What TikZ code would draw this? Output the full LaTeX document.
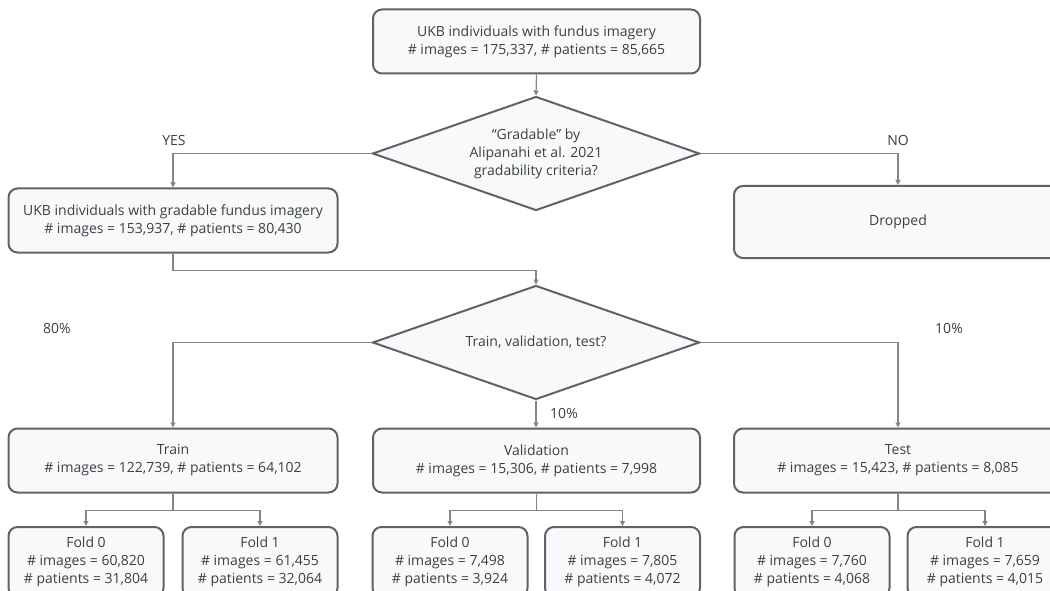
\documentclass[tikz,border=0pt]{standalone}
\usepackage{fontspec}
\setmainfont{Open Sans}
\usetikzlibrary{shapes.geometric,arrows.meta}
\definecolor{boxline}{HTML}{5F6368}
\definecolor{boxfill}{HTML}{F8F9FA}
\definecolor{conn}{HTML}{80868B}
\definecolor{txt}{HTML}{3C4043}
\tikzset{
  box/.style={draw=boxline,fill=boxfill,line width=2pt,rounded corners=9pt,
    align=center,text=txt,inner sep=2pt,minimum width=327pt,minimum height=64pt},
  foldbox/.style={box,minimum width=155pt,minimum height=70pt},
  decision/.style={diamond,draw=boxline,fill=boxfill,line width=2pt,align=center,
    text=txt,inner sep=0pt,aspect=2.9,minimum width=327pt,minimum height=114pt},
  conn/.style={draw=conn,line width=1.2pt,-{Triangle[width=5pt,length=5pt]}},
  lbl/.style={text=txt,inner sep=0pt}
}
\begin{document}
\begin{tikzpicture}[x=1pt,y=-1pt,font=\fontsize{14}{18}\selectfont]
  \useasboundingbox (0,0) rectangle (1050,591);

  % boxes
  \node[box] (ukb) at (536.5,41.5) {UKB individuals with fundus imagery\\\# images = 175,337, \# patients = 85,665};
  \node[decision] (grade) at (536,153.5) {``Gradable'' by\\Alipanahi et al. 2021\\gradability criteria?};
  \node[box,minimum width=329pt] (gradable) at (173,220.5) {UKB individuals with gradable fundus imagery\\\# images = 153,937, \# patients = 80,430};
  \node[box,minimum width=328pt,minimum height=72pt] (dropped) at (898,222) {Dropped};
  \node[decision] (split) at (536,342.5) {Train, validation, test?};
  \node[box,minimum width=329pt] (train) at (173,460.5) {Train\\\# images = 122,739, \# patients = 64,102};
  \node[box] (valid) at (536.5,460.5) {Validation\\\# images = 15,306, \# patients = 7,998};
  \node[box,minimum width=328pt] (test) at (898,460.5) {Test\\\# images = 15,423, \# patients = 8,085};

  % folds
  \node[foldbox] (train0) at (86,562) {Fold 0\\\# images = 60,820\\\# patients = 31,804};
  \node[foldbox] (train1) at (260,562) {Fold 1\\\# images = 61,455\\\# patients = 32,064};
  \node[foldbox] (valid0) at (450,562) {Fold 0\\\# images = 7,498\\\# patients = 3,924};
  \node[foldbox] (valid1) at (622.5,562) {Fold 1\\\# images = 7,805\\\# patients = 4,072};
  \node[foldbox] (test0) at (812,562) {Fold 0\\\# images = 7,760\\\# patients = 4,068};
  \node[foldbox] (test1) at (985,562) {Fold 1\\\# images = 7,659\\\# patients = 4,015};

  % connectors
  \draw[conn] (ukb.south) -- (grade.north);
  \draw[conn] (grade.west) -| (gradable.north);
  \draw[conn] (grade.east) -| (dropped.north);
  \draw[conn] (gradable.south) -- ++(0,17) -| (split.north);
  \draw[conn] (split.west) -| (train.north);
  \draw[conn] (split.south) -- (split.south |- valid.north);
  \draw[conn] (split.east) -| (test.north);

  \coordinate (trainfork) at ([yshift=-17pt]train.south);
  \coordinate (validfork) at ([yshift=-17pt]valid.south);
  \coordinate (testfork) at ([yshift=-17pt]test.south);
  \draw[conn,-] (train.south) -- (trainfork);
  \draw[conn] (trainfork) -| (train0.north);
  \draw[conn] (trainfork) -| (train1.north);
  \draw[conn,-] (valid.south) -- (validfork);
  \draw[conn] (validfork) -| (valid0.north);
  \draw[conn] (validfork) -| (valid1.north);
  \draw[conn,-] (test.south) -- (testfork);
  \draw[conn] (testfork) -| (test0.north);
  \draw[conn] (testfork) -| (test1.north);

  % labels
  \node[lbl] (yes) at (174,140) {YES};
  \node[lbl] (no) at (898,140) {NO};
  \node[lbl] (pct80) at (57,328) {80\%};
  \node[lbl] (pct10v) at (564,413) {10\%};
  \node[lbl] (pct10t) at (949,328) {10\%};
\end{tikzpicture}
\end{document}
